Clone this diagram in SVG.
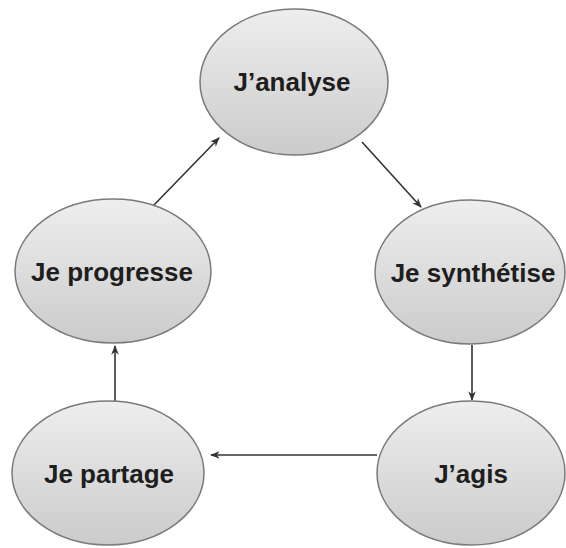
<svg xmlns="http://www.w3.org/2000/svg" width="566" height="548" viewBox="0 0 566 548">
  <style>
    .node ellipse { fill: url(#bubble); stroke: #7a7a7a; stroke-width: 1.5; }
    .node text { font-family: "Liberation Sans", Arial, sans-serif; font-weight: bold; font-size: 26px; fill: #1e1e1e; text-anchor: middle; }
    .links line { stroke: #333; stroke-width: 1.6; marker-end: url(#head); }
  </style>
  <defs>
    <linearGradient id="bubble" x1="0" y1="0" x2="0" y2="1">
      <stop offset="0" stop-color="#eeeeee"/>
      <stop offset="1" stop-color="#cbcbcb"/>
    </linearGradient>
    <marker id="head" viewBox="0 0 10 10" refX="9" refY="5" markerWidth="6" markerHeight="6" orient="auto" markerUnits="strokeWidth">
      <path d="M0,1 L10,5 L0,9 L3,5 Z" fill="#333"/>
    </marker>
  </defs>
  <rect width="566" height="548" fill="#fff"/>

  <g class="links">
    <line x1="362" y1="142" x2="421" y2="207"/>
    <line x1="472" y1="345" x2="472" y2="400"/>
    <line x1="377" y1="455" x2="211" y2="455"/>
    <line x1="115" y1="402" x2="115" y2="346"/>
    <line x1="153" y1="206" x2="219" y2="138"/>
  </g>

  <g id="analyse" class="node">
    <ellipse cx="294" cy="82" rx="94" ry="73"/>
    <text x="292" y="91">J’analyse</text>
  </g>
  <g id="synthetise" class="node">
    <ellipse cx="470" cy="272" rx="95" ry="72"/>
    <text x="473" y="282">Je synthétise</text>
  </g>
  <g id="agis" class="node">
    <ellipse cx="471" cy="473" rx="94" ry="72"/>
    <text x="471" y="483">J’agis</text>
  </g>
  <g id="partage" class="node">
    <ellipse cx="108" cy="473" rx="96" ry="72"/>
    <text x="109" y="483">Je partage</text>
  </g>
  <g id="progresse" class="node">
    <ellipse cx="113" cy="271" rx="98" ry="72"/>
    <text x="112" y="281">Je progresse</text>
  </g>
</svg>
